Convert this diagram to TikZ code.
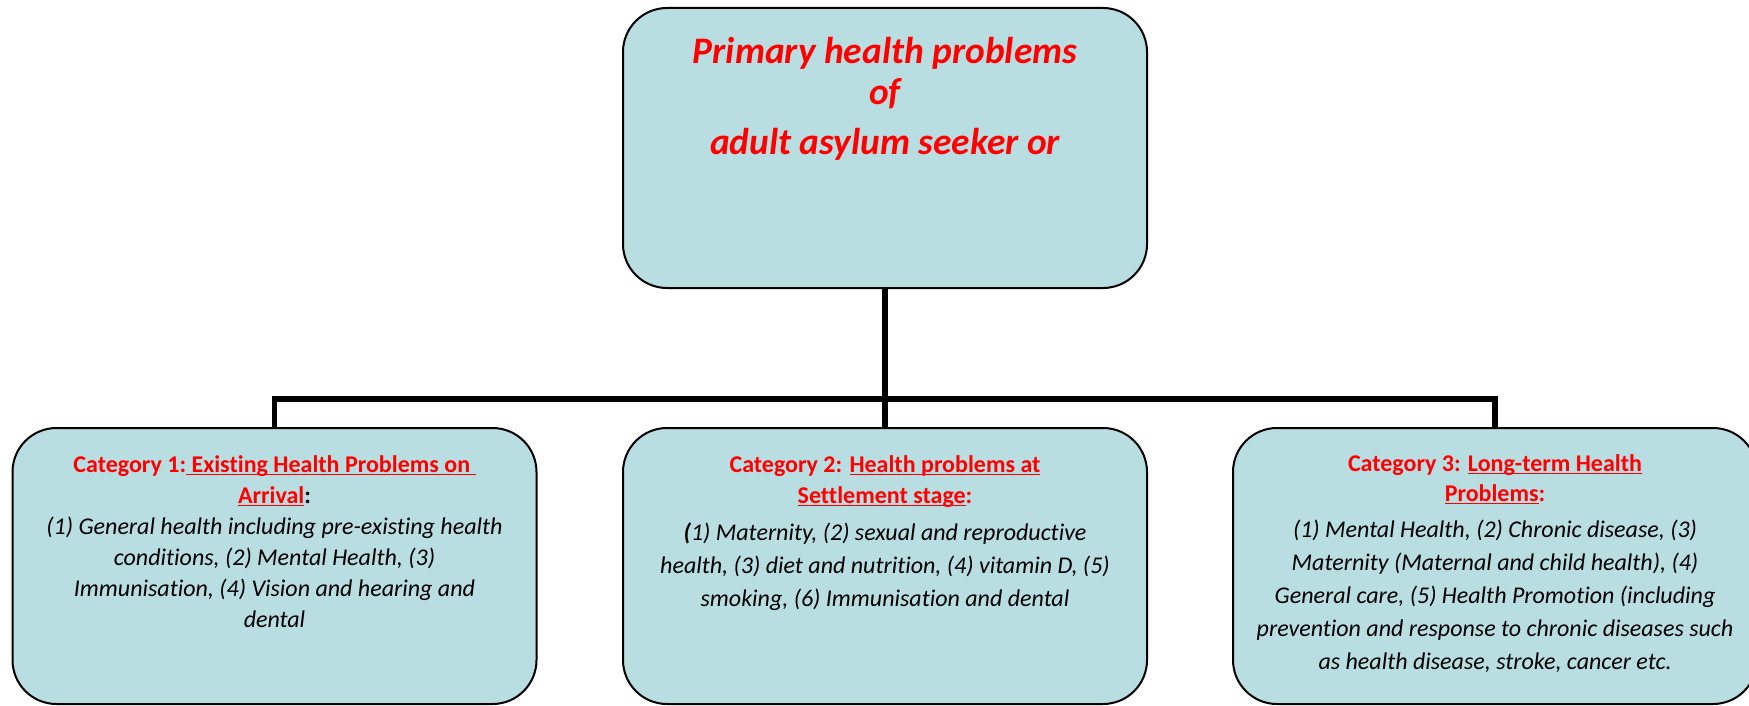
\documentclass[tikz,border=0pt]{standalone}
\usepackage{fontspec}
\setmainfont{Carlito}[Ligatures=NoCommon]
\definecolor{boxfill}{RGB}{184,222,226}
\definecolor{redtxt}{RGB}{255,0,0}
\newsavebox\ulbox
\newcommand\myul[1]{\leavevmode\sbox\ulbox{#1}\rlap{\rule[-1.7pt]{\wd\ulbox}{0.75pt}}\usebox\ulbox}
\tikzset{
  pbox/.style={draw=black, line width=1pt, fill=boxfill, rounded corners=22pt,
    minimum width=262pt, minimum height=138pt, inner sep=0pt, outer sep=0pt},
  topbox/.style={pbox, minimum height=140pt},
  link/.style={line width=2.6pt},
  txt/.style={inner sep=0pt, outer sep=0pt, anchor=base, align=center}
}
\begin{document}
\begin{tikzpicture}[x=0.5pt,y=-0.5pt]
\useasboundingbox (0,0) rectangle (1749,706);
% boxes
\node[topbox] (top) at (885,148) {};
\node[pbox] (b1) at (274.5,566) {};
\node[pbox] (b2) at (885,566) {};
\node[pbox] (b3) at (1495,566) {};
% connectors
\coordinate (jn) at (885,399);
\draw[link] (top.south) -- (b2.north);
\draw[link] (b1.north) |- (jn) -| (b3.north);
% title
\node[txt] (tt) at (885,64) {\vtop{\hsize=300pt\parindent=0pt\parskip=0pt\centering
  \fontsize{18.7}{20.5}\selectfont\bfseries\itshape\leavevmode\color{redtxt}%
  Primary health problems\\ of\\[4.5pt] adult asylum seeker or\par}};
% category 1
\node[txt] (t1) at (274.5,472) {\vtop{\hsize=280pt\parindent=0pt\parskip=0pt\centering
  \fontsize{12}{15.5}\selectfont\bfseries\leavevmode\color{redtxt}%
  Category 1:\myul{\ Existing Health Problems on\ }\\
  \myul{Arrival}{\color{black}:}\par
  \fontsize{12}{15.5}\selectfont\mdseries\itshape\leavevmode\color{black}%
  (1) General health including pre-existing health\\
  conditions, (2) Mental Health, (3)\\
  Immunisation, (4) Vision and hearing and\\
  dental\par}};
% category 2
\node[txt] (t2) at (885,472) {\vtop{\hsize=280pt\parindent=0pt\parskip=0pt\centering
  \fontsize{12}{15.5}\selectfont\bfseries\leavevmode\color{redtxt}%
  Category 2: \myul{Health problems at}\\
  \myul{Settlement stage}:\par
  \vspace{2pt}%
  \fontsize{12}{16.5}\selectfont\mdseries\itshape\leavevmode\color{black}%
  {\bfseries(}1) Maternity, (2) sexual and reproductive\\
  health, (3) diet and nutrition, (4) vitamin D, (5)\\
  smoking, (6) Immunisation and dental\par}};
% category 3
\node[txt] (t3) at (1495,471) {\vtop{\hsize=280pt\parindent=0pt\parskip=0pt\centering
  \fontsize{12}{15}\selectfont\bfseries\leavevmode\color{redtxt}%
  Category 3: \myul{Long-term Health}\\
  \myul{Problems}:\par
  \vspace{1.5pt}%
  \fontsize{12}{16.5}\selectfont\mdseries\itshape\leavevmode\color{black}%
  (1) Mental Health, (2) Chronic disease, (3)\\
  Maternity (Maternal and child health), (4)\\
  General care, (5) Health Promotion (including\\
  prevention and response to chronic diseases such\\
  as health disease, stroke, cancer etc.\par}};
\end{tikzpicture}
\end{document}
